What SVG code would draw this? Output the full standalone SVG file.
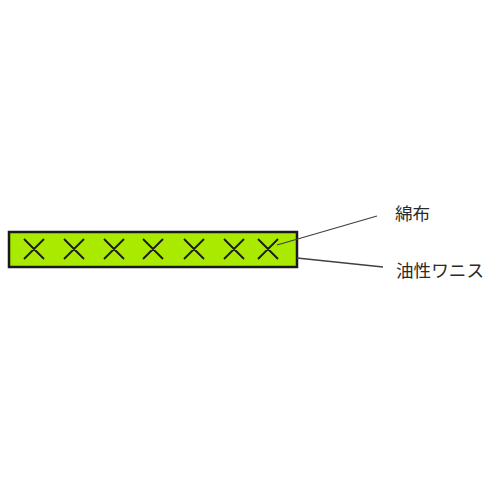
<svg xmlns="http://www.w3.org/2000/svg" width="500" height="500" viewBox="0 0 500 500">
<style>
.body{fill:#aaea00;stroke:#1a1a1a;stroke-width:2.5}
.x{stroke:#1a1a1a;stroke-width:1.8;fill:none}
.lead{stroke:#404040;stroke-width:1.3;fill:none}
.lbl{font-family:"Noto Sans CJK JP","Noto Sans",sans-serif;font-size:17.6px;fill:#2a2a2a}
</style>
<rect width="500" height="500" fill="#fff"/>
<g id="layer">
<rect class="body" x="9" y="232" width="288" height="35"/>
<path class="x" d="M24,239L44,259M44,239L24,259 M64,239L84,259M84,239L64,259 M104,239L124,259M124,239L104,259 M143,239L163,259M163,239L143,259 M184,239L204,259M204,239L184,259 M224,239L244,259M244,239L224,259 M258,239L278,259M278,239L258,259"/>
</g>
<g id="connectors">
<line class="lead" x1="277" y1="245" x2="377" y2="216"/>
<line class="lead" x1="297" y1="258" x2="383" y2="267"/>
</g>
<g id="label1"><text class="lbl" x="395" y="220">綿布</text></g>
<g id="label2"><text class="lbl" x="396" y="277">油性ワニス</text></g>
</svg>
